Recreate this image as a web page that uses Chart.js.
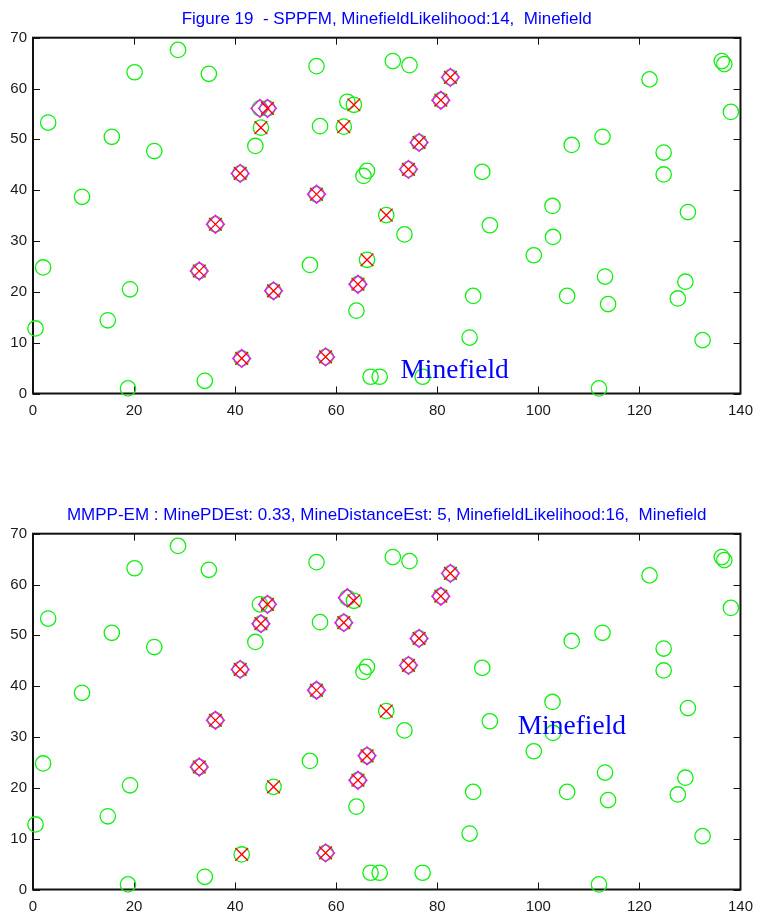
<!DOCTYPE html>
<html>
<head>
<meta charset="utf-8">
<script src="https://cdn.jsdelivr.net/npm/chart.js@4.4.1/dist/chart.umd.min.js"></script>
<style>
  html, body { margin: 0; padding: 0; background: #ffffff; overflow: hidden; }
  #wrap { position: relative; width: 761px; height: 913px; }
  .panel { position: absolute; left: 0; width: 761px; height: 417px; }
</style>
</head>
<body>
<div id="wrap">
  <div class="panel" style="top:0px"><canvas id="sppfm" width="761" height="417"></canvas></div>
  <div class="panel" style="top:496px"><canvas id="mmpp" width="761" height="417"></canvas></div>
</div>
<script>
// Candidate objects in the field (green circles)
const objX = [3.0, 9.7, 15.6, 20.1, 24.0, 28.7, 34.8, 44.9, 46.4, 45.1, 44.0, 41.0, 56.1, 56.1, 56.8,
  61.5, 62.2, 63.5, 65.4, 66.1, 71.2, 74.5, 82.6, 80.7, 76.4, 74.3, 88.9, 106.6, 112.7, 122.0,
  124.8, 124.8, 136.3, 136.8, 138.1, 102.8, 129.6, 69.9, 90.4, 36.1, 2.0, 19.2, 14.8, 0.5, 18.8,
  34.0, 32.9, 47.6, 54.8, 66.1, 64.3, 64.0, 41.3, 57.9, 66.8, 68.6, 73.5, 102.9, 99.1, 113.2,
  129.1, 87.1, 105.7, 113.8, 127.6, 86.4, 132.5, 77.1, 112.0];
const objY = [53.3, 38.7, 50.5, 63.2, 47.7, 67.6, 62.9, 56.1, 56.1, 52.3, 48.7, 43.3, 39.2, 64.4, 52.6,
  52.5, 57.4, 56.8, 42.8, 43.8, 65.4, 64.6, 62.2, 57.7, 49.4, 44.1, 43.6, 48.9, 50.5, 61.8,
  47.4, 43.1, 65.4, 64.8, 55.4, 36.9, 35.7, 35.1, 33.1, 33.3, 24.8, 20.5, 14.4, 12.8, 1.0,
  2.5, 24.1, 20.2, 25.3, 26.3, 21.5, 16.3, 6.9, 7.2, 3.3, 3.3, 31.3, 30.8, 27.2, 23.0,
  22.0, 19.2, 19.2, 17.6, 18.7, 11.0, 10.5, 3.3, 1.0];

// Actual mines (red crosses)
const mineX = [46.4, 45.1, 41.0, 56.1, 61.5, 63.5, 82.6, 80.7, 76.4, 74.3, 69.9, 36.1, 32.9, 47.6, 66.1, 64.3, 41.3, 57.9];
const mineY = [56.1, 52.3, 43.3, 39.2, 52.5, 56.8, 62.2, 57.7, 49.4, 44.1, 35.1, 33.3, 24.1, 20.2, 26.3, 21.5, 6.9, 7.2];

// Objects classified as mines by SPPFM (magenta diamonds, upper panel)
const sppfmX = [44.9, 46.4, 41.0, 56.1, 36.1, 82.6, 80.7, 76.4, 74.3, 32.9, 47.6, 64.3, 41.3, 57.9];
const sppfmY = [56.1, 56.1, 43.3, 39.2, 33.3, 62.2, 57.7, 49.4, 44.1, 24.1, 20.2, 21.5, 6.9, 7.2];

// Objects classified as mines by MMPP-EM (magenta diamonds, lower panel)
const mmppX = [46.4, 45.1, 41.0, 36.1, 56.1, 61.5, 62.2, 82.6, 80.7, 76.4, 74.3, 32.9, 66.1, 64.3, 57.9];
const mmppY = [56.1, 52.3, 43.3, 33.3, 39.2, 52.5, 57.4, 62.2, 57.7, 49.4, 44.1, 24.1, 26.3, 21.5, 7.2];

// Axis ticks
const xTicks = [0, 20, 40, 60, 80, 100, 120, 140];
const yTicks = [0, 10, 20, 30, 40, 50, 60, 70];

// Panel titles and the in-plot "Minefield" label (text, x, y in data units)
const titles = [
  'Figure 19  - SPPFM, MinefieldLikelihood:14,  Minefield',
  'MMPP-EM : MinePDEst: 0.33, MineDistanceEst: 5, MinefieldLikelihood:16,  Minefield'
];
const fieldLabels = [
  { text: 'Minefield', x: 72.7, y: 3.1 },
  { text: 'Minefield', x: 95.9, y: 30.5 }
];

const SANS = "'Liberation Sans', Arial, Helvetica, sans-serif";
const SERIF = "'Liberation Serif', 'Times New Roman', serif";
const TICK = 7;

const pts = (xs, ys) => xs.map((x, i) => ({ x: x, y: ys[i] }));

// Box frame with inward-pointing tick marks on all four sides
const boxTicks = {
  id: 'boxTicks',
  beforeDatasetsDraw(chart) {
    const { ctx, chartArea: a, scales: { x, y } } = chart;
    ctx.save();
    ctx.strokeStyle = '#111111';
    ctx.lineWidth = 1;
    ctx.beginPath();
    x.ticks.forEach(t => {
      const px = Math.round(x.getPixelForValue(t.value)) + 0.5;
      ctx.moveTo(px, a.bottom); ctx.lineTo(px, a.bottom - TICK);
      ctx.moveTo(px, a.top); ctx.lineTo(px, a.top + TICK);
    });
    y.ticks.forEach(t => {
      const py = Math.round(y.getPixelForValue(t.value)) + 0.5;
      ctx.moveTo(a.left, py); ctx.lineTo(a.left + TICK, py);
      ctx.moveTo(a.right, py); ctx.lineTo(a.right - TICK, py);
    });
    ctx.stroke();
    ctx.lineWidth = 2;
    ctx.strokeRect(a.left, a.top, a.right - a.left, a.bottom - a.top);
    ctx.restore();
  }
};

// Text annotation placed in data coordinates
const fieldLabel = {
  id: 'fieldLabel',
  afterDatasetsDraw(chart, args, opts) {
    if (!opts || !opts.text) return;
    const { ctx, scales: { x, y } } = chart;
    ctx.save();
    ctx.font = '27.5px ' + SERIF;
    ctx.fillStyle = '#0000ff';
    ctx.textAlign = 'left';
    ctx.textBaseline = 'alphabetic';
    ctx.fillText(opts.text, x.getPixelForValue(opts.x), y.getPixelForValue(opts.y));
    ctx.restore();
  }
};

function makeChart(id, title, detX, detY, label) {
  return new Chart(document.getElementById(id), {
    type: 'scatter',
    data: {
      datasets: [
        {
          label: 'Mines',
          data: pts(mineX, mineY),
          pointStyle: 'crossRot',
          pointRadius: 9,
          borderColor: '#ff0000',
          borderWidth: 1.3,
          clip: false,
          order: 0
        },
        {
          label: 'Detected',
          data: pts(detX, detY),
          pointStyle: 'rectRot',
          pointRadius: 9,
          borderColor: '#ff00ff',
          backgroundColor: 'rgba(0,0,0,0)',
          borderWidth: 1.3,
          clip: false,
          order: 1
        },
        {
          label: 'Objects',
          data: pts(objX, objY),
          pointStyle: 'circle',
          pointRadius: 7.7,
          borderColor: '#12ee12',
          backgroundColor: 'rgba(0,0,0,0)',
          borderWidth: 1.3,
          clip: false,
          order: 2
        }
      ]
    },
    options: {
      responsive: false,
      animation: false,
      events: [],
      layout: { padding: { left: 0, right: 17, top: 0, bottom: 0 } },
      plugins: {
        legend: { display: false },
        tooltip: { enabled: false },
        title: {
          display: true,
          text: title,
          color: '#0000ff',
          fullSize: false,
          font: { family: SANS, size: 17, weight: 'normal', lineHeight: 1.2 },
          padding: { top: 9, bottom: 8.3 }
        },
        fieldLabel: label
      },
      scales: {
        x: {
          type: 'linear',
          min: 0, max: 140,
          border: { display: false },
          grid: { display: false, drawTicks: false },
          afterBuildTicks(s) { s.ticks = xTicks.map(v => ({ value: v })); },
          ticks: {
            color: '#1a1a1a',
            font: { family: SANS, size: 15 },
            padding: 8,
            maxRotation: 0,
            autoSkip: false
          },
          afterFit(s) { s.height = 23.5; }
        },
        y: {
          type: 'linear',
          min: 0, max: 70,
          border: { display: false },
          grid: { display: false, drawTicks: false },
          afterBuildTicks(s) { s.ticks = yTicks.map(v => ({ value: v })); },
          ticks: {
            color: '#1a1a1a',
            font: { family: SANS, size: 15 },
            padding: 6,
            autoSkip: false
          },
          afterFit(s) { s.width = 33; }
        }
      }
    },
    plugins: [boxTicks, fieldLabel]
  });
}

makeChart('sppfm', titles[0], sppfmX, sppfmY, fieldLabels[0]);
makeChart('mmpp', titles[1], mmppX, mmppY, fieldLabels[1]);
</script>
</body>
</html>
